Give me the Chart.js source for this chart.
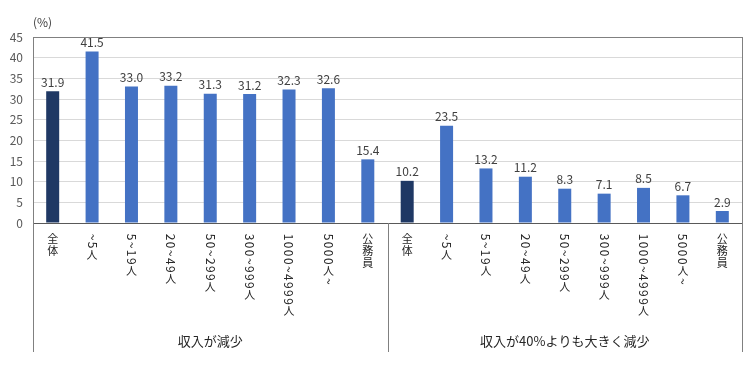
<!DOCTYPE html>
<html>
<head>
<meta charset="utf-8">
<script src="https://cdn.jsdelivr.net/npm/chart.js@4/dist/chart.umd.min.js"></script>
<style>
html,body{margin:0;padding:0;background:#fff;}
canvas{display:block;}
</style>
</head>
<body>
<canvas id="c" width="750" height="366"></canvas>
<script>
const categories = ['全体','~5人','5~19人','20~49人','50~299人','300~999人','1000~4999人','5000人~','公務員'];
const groupNames = ['収入が減少','収入が40%よりも大きく減少'];
const reducedValues = [31.9,41.5,33.0,33.2,31.3,31.2,32.3,32.6,15.4];
const over40Values = [10.2,23.5,13.2,11.2,8.3,7.1,8.5,6.7,2.9];
const yMax = 45, yStep = 5;
const unitLabel = '(%)';

const FONT = "'Noto Sans CJK JP', 'Noto Sans', sans-serif";
const labels = categories.concat(categories);
const values = reducedValues.concat(over40Values);
const colors = labels.map((l, i) => (i % categories.length === 0) ? '#1F3864' : '#4472C4');

function isUpright(ch){
  const c = ch.codePointAt(0);
  return c >= 0x2E80;
}

const customText = {
  id: 'customText',
  afterDraw(chart){
    const ctx = chart.ctx;
    const xs = chart.scales.x;
    const area = chart.chartArea;
    const meta = chart.getDatasetMeta(0);
    ctx.save();
    // data labels
    ctx.font = '12px ' + FONT;
    ctx.fillStyle = '#404040';
    ctx.textAlign = 'center';
    ctx.textBaseline = 'bottom';
    meta.data.forEach((bar, i) => {
      ctx.fillText(values[i].toFixed(1), bar.x, bar.y - 3);
    });
    // vertical category labels
    const fs = 12;
    const cjkFs = 11;
    ctx.fillStyle = '#262626';
    labels.forEach((lab, i) => {
      const x = xs.getPixelForTick(i);
      let y = area.bottom + 10;
      for (const ch of lab) {
        if (isUpright(ch)) {
          ctx.font = cjkFs + 'px ' + FONT;
          ctx.textAlign = 'center';
          ctx.textBaseline = 'top';
          ctx.fillText(ch, x, y);
          y += 12;
        } else {
          ctx.font = fs + 'px ' + FONT;
          const w = ctx.measureText(ch).width;
          ctx.save();
          ctx.translate(x, y + 0.7);
          ctx.rotate(Math.PI / 2);
          ctx.textAlign = 'left';
          ctx.textBaseline = 'middle';
          ctx.fillText(ch, 0, 0);
          ctx.restore();
          y += w + 1.4;
        }
      }
    });
    // group separators
    const n = categories.length;
    const mid = (xs.getPixelForTick(n - 1) + xs.getPixelForTick(n)) / 2;
    const bounds = [area.left, mid, area.right];
    ctx.strokeStyle = '#808080';
    ctx.lineWidth = 1;
    bounds.forEach((bx, k) => {
      const px = Math.round(bx) + 0.5;
      ctx.beginPath();
      ctx.moveTo(px, k === 1 ? area.bottom : area.top);
      ctx.lineTo(px, 352);
      ctx.stroke();
    });
    // group names
    ctx.font = '13px ' + FONT;
    ctx.fillStyle = '#262626';
    ctx.textAlign = 'center';
    ctx.textBaseline = 'middle';
    groupNames.forEach((g, k) => {
      ctx.fillText(g, (bounds[k] + bounds[k + 1]) / 2, 341);
    });
    // unit label
    ctx.font = '12px ' + FONT;
    ctx.textAlign = 'left';
    ctx.fillStyle = '#404040';
    ctx.fillText(unitLabel, 33, 22);
    ctx.restore();
  }
};

new Chart(document.getElementById('c'), {
  type: 'bar',
  data: {
    labels: labels,
    datasets: [{
      data: values,
      backgroundColor: colors,
      barPercentage: 0.33,
      categoryPercentage: 1.0
    }]
  },
  options: {
    responsive: false,
    animation: false,
    devicePixelRatio: 1,
    layout: { padding: { top: 37, right: 8, left: 0, bottom: 0 } },
    plugins: { legend: { display: false }, tooltip: { enabled: false } },
    scales: {
      x: {
        offset: true,
        grid: { display: false, drawTicks: false },
        border: { display: true, color: '#595959', width: 1 },
        ticks: { display: false },
        afterFit(scale){ scale.height = 143; }
      },
      y: {
        min: 0, max: yMax,
        ticks: { stepSize: yStep, font: { size: 12, family: FONT }, color: '#595959', padding: 10 },
        grid: {
          drawTicks: false,
          color: ctx => (ctx.tick && ctx.tick.value === yMax) ? '#808080' : '#d9d9d9'
        },
        border: { display: true, color: '#808080', width: 1 },
        afterFit(scale){ scale.width = 33; }
      }
    }
  },
  plugins: [customText]
});
</script>
</body>
</html>
